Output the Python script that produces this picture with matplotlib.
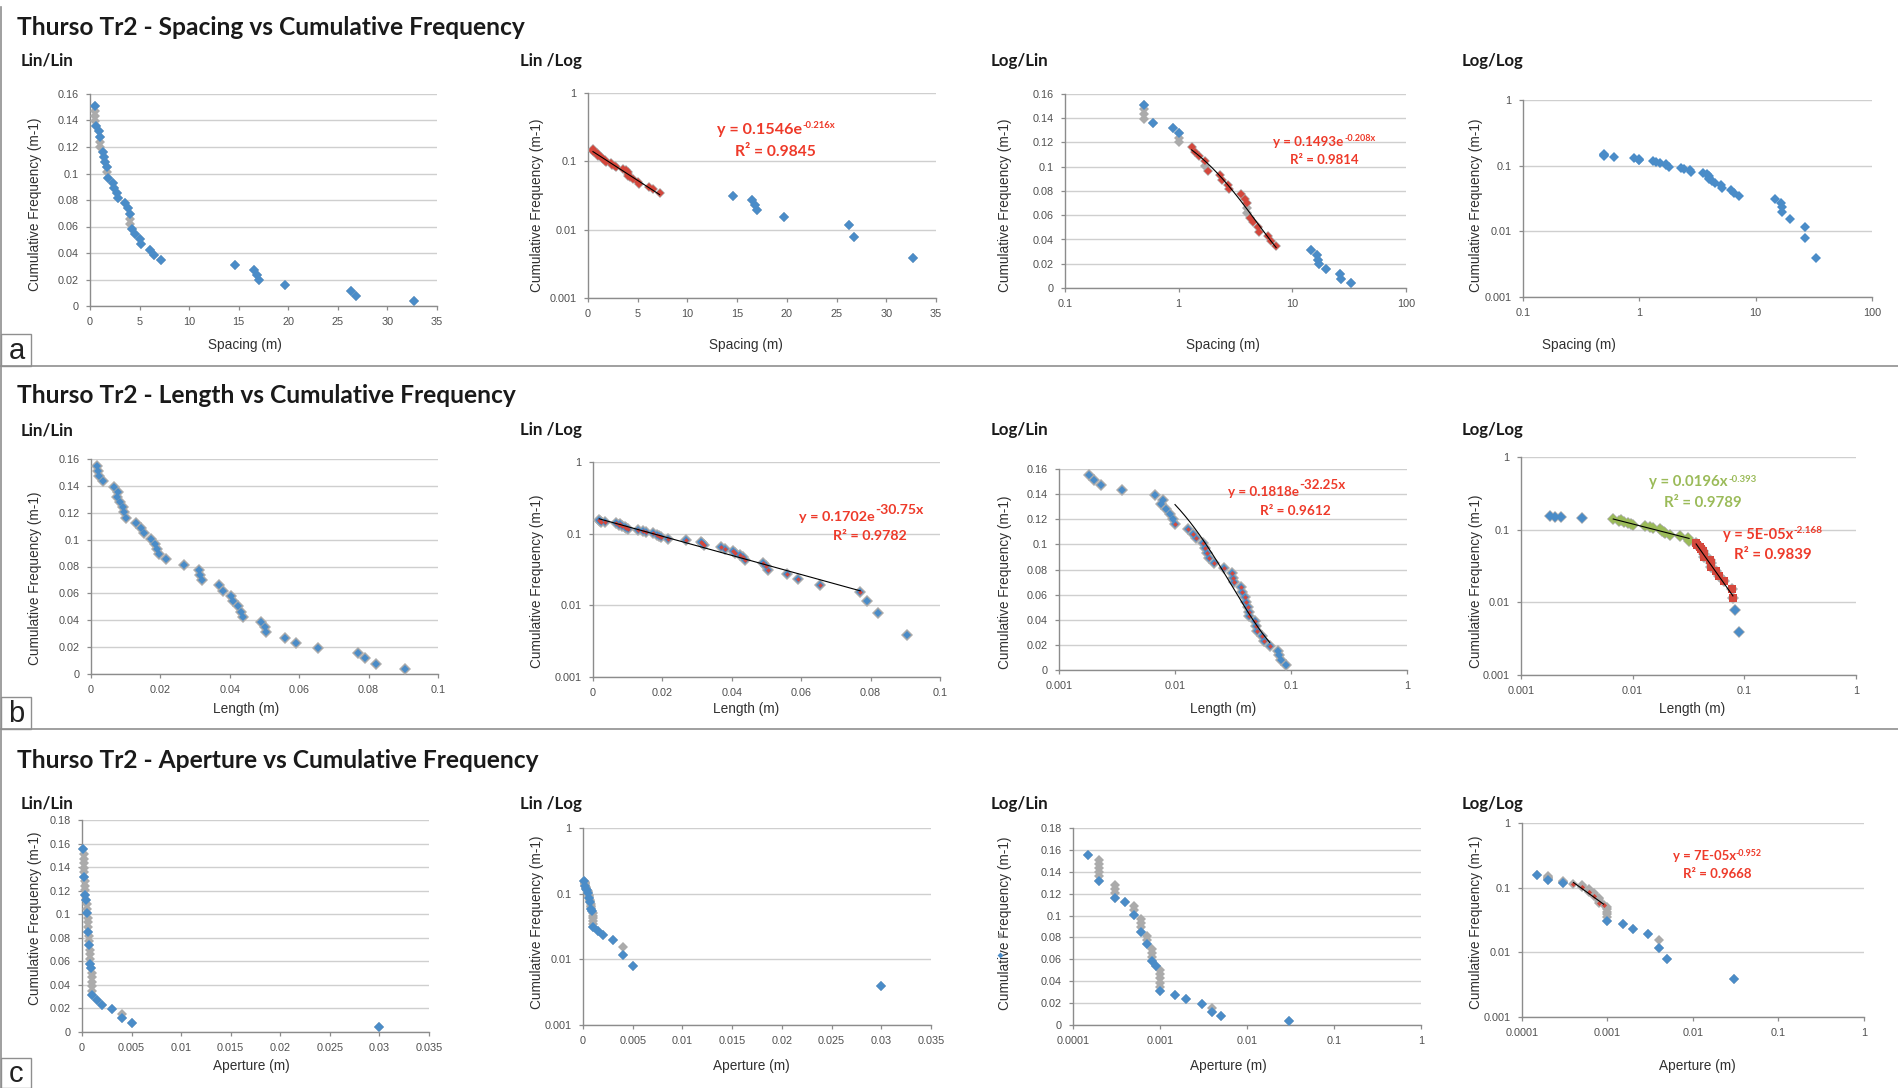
import numpy as np
import matplotlib
matplotlib.use("Agg")
import matplotlib.pyplot as plt
from matplotlib.ticker import FixedLocator, NullLocator, FuncFormatter
from matplotlib.lines import Line2D
from matplotlib.patches import Rectangle

W, H, DPI = 1899, 1088, 100
plt.rcParams['font.family'] = ['Liberation Sans', 'DejaVu Sans']

# ---------------- data: spacing (rank 1 = largest spacing) ----------------
spacing_x = [32.7, 26.8, 26.3, 19.7, 17.0, 16.8, 16.5, 14.6, 7.2, 6.5, 6.1, 5.1, 5.0, 4.5, 4.2,
             4.0, 4.0, 4.0, 3.8, 3.5, 2.8, 2.7, 2.4, 2.3, 1.8, 1.7, 1.7, 1.5, 1.4, 1.3,
             1.0, 1.0, 1.0, 0.9, 0.6, 0.5, 0.5, 0.5, 0.5]
spacing_cf = [0.0039, 0.0078, 0.0116, 0.0155, 0.0194, 0.0233, 0.0271, 0.0310, 0.0349, 0.0388,
              0.0426, 0.0465, 0.0504, 0.0543, 0.0581, 0.0620, 0.0659, 0.0698, 0.0736, 0.0775,
              0.0814, 0.0853, 0.0891, 0.0930, 0.0969, 0.1008, 0.1047, 0.1085, 0.1124, 0.1163,
              0.1202, 0.1240, 0.1279, 0.1318, 0.1357, 0.1395, 0.1434, 0.1473, 0.1512]
spacing_front = [1, 1, 1, 1, 1, 1, 1, 1, 1, 1, 1, 1, 1, 1, 1,
                 0, 0, 1, 1, 1, 1, 1, 1, 1, 1, 0, 1, 1, 1, 1,
                 0, 0, 1, 1, 1, 0, 0, 0, 1]

# ---------------- data: length ----------------
length_x = [0.0905, 0.082, 0.079, 0.077, 0.0655, 0.059, 0.056, 0.0505, 0.050, 0.049,
            0.0437, 0.0433, 0.0425, 0.041, 0.0403, 0.038, 0.037, 0.032, 0.0315, 0.031,
            0.0267, 0.0216, 0.0195, 0.019, 0.0183, 0.0174, 0.0153, 0.0143, 0.013, 0.010,
            0.0096, 0.0091, 0.0084, 0.0076, 0.0079, 0.0067, 0.0035, 0.0023, 0.0020, 0.0018]
length_cf = [0.0039, 0.0078, 0.0116, 0.0155, 0.0194, 0.0233, 0.0271, 0.0310, 0.0349, 0.0388,
             0.0426, 0.0465, 0.0504, 0.0543, 0.0581, 0.0620, 0.0659, 0.0698, 0.0736, 0.0775,
             0.0814, 0.0853, 0.0891, 0.0930, 0.0969, 0.1008, 0.1047, 0.1085, 0.1124, 0.1163,
             0.1202, 0.1240, 0.1279, 0.1318, 0.1357, 0.1395, 0.1434, 0.1473, 0.1512, 0.1550]

# ---------------- data: aperture ----------------
aperture_x = [0.03, 0.005, 0.004, 0.004, 0.003, 0.002, 0.0015,
              0.001, 0.001, 0.001, 0.001, 0.001, 0.001, 0.0009,
              0.0008, 0.0008, 0.0008, 0.0008, 0.0007, 0.0007, 0.0007,
              0.0006, 0.0006, 0.0006, 0.0006, 0.0005, 0.0005, 0.0005, 0.0004,
              0.0003, 0.0003, 0.0003, 0.0003, 0.0002, 0.0002, 0.0002, 0.0002, 0.0002, 0.0002, 0.00015]
aperture_cf = [0.0039, 0.0078, 0.0116, 0.0155, 0.0194, 0.0233, 0.0271, 0.0310, 0.0349, 0.0388,
               0.0426, 0.0465, 0.0504, 0.0543, 0.0581, 0.0620, 0.0659, 0.0698, 0.0736, 0.0775,
               0.0814, 0.0853, 0.0891, 0.0930, 0.0969, 0.1008, 0.1047, 0.1085, 0.1124, 0.1163,
               0.1202, 0.1240, 0.1279, 0.1318, 0.1357, 0.1395, 0.1434, 0.1473, 0.1512, 0.1550]
aperture_front = [1, 1, 1, 0, 1, 1, 1,
                  1, 0, 0, 0, 0, 0, 1,
                  1, 0, 0, 0, 1, 0, 0,
                  1, 0, 0, 0, 1, 0, 0, 1,
                  1, 0, 0, 0, 1, 0, 0, 0, 0, 0, 1]

# ---------------- trendline fits (coefficients + rank range of fitted points) ----------------
fit_spacing_linlog = dict(a=0.1546, b=-0.216, kind='exp', ranks=(9, 39))
fit_spacing_loglin = dict(a=0.1493, b=-0.208, kind='exp', ranks=(9, 30))
fit_length_linlog = dict(a=0.1702, b=-30.75, kind='exp', ranks=(4, 40))
fit_length_loglin = dict(a=0.1818, b=-32.25, kind='exp', ranks=(5, 30))
fit_length_loglog_green = dict(a=0.0196, b=-0.393, kind='pow', ranks=(18, 36))
fit_length_loglog_red = dict(a=5e-05, b=-2.168, kind='pow', ranks=(3, 17))
fit_aperture_loglog = dict(a=7e-05, b=-0.952, kind='pow', ranks=(14, 29))

# ---------------- ticks ----------------
spacing_lin_ticks = [0, 5, 10, 15, 20, 25, 30, 35]
spacing_log_ticks = [0.1, 1, 10, 100]
length_lin_ticks = [0, 0.02, 0.04, 0.06, 0.08, 0.1]
length_log_ticks = [0.001, 0.01, 0.1, 1]
aperture_lin_ticks = [0, 0.005, 0.01, 0.015, 0.02, 0.025, 0.03, 0.035]
aperture_log_ticks = [0.0001, 0.001, 0.01, 0.1, 1]
cf_lin_ticks_16 = [0, 0.02, 0.04, 0.06, 0.08, 0.1, 0.12, 0.14, 0.16]
cf_lin_ticks_18 = [0, 0.02, 0.04, 0.06, 0.08, 0.1, 0.12, 0.14, 0.16, 0.18]
cf_log_ticks = [0.001, 0.01, 0.1, 1]

row_titles = ["Thurso Tr2 - Spacing vs Cumulative Frequency",
              "Thurso Tr2 - Length vs Cumulative Frequency",
              "Thurso Tr2 - Aperture vs Cumulative Frequency"]
panel_titles = ["Lin/Lin", "Lin /Log", "Log/Lin", "Log/Log"]
row_letters = ["a", "b", "c"]
x_labels = ["Spacing (m)", "Length (m)", "Aperture (m)"]
y_label = "Cumulative Frequency (m-1)"

# ---------------- styles ----------------
BLUE = '#4A8CC8'
GREY = '#ABABAB'
RED_PT = '#D4473C'
GREEN_PT = '#9BBB59'
RED_TXT = '#EE3A2A'
GREEN_TXT = '#9BBB59'
AX_COLOR = '#8C8C8C'
GRID_COLOR = '#CFCFCF'
TICK_COLOR = '#505050'
LABEL_COLOR = '#303030'

fig = plt.figure(figsize=(W / DPI, H / DPI), dpi=DPI)
fig.patch.set_facecolor('white')
renderer = fig.canvas.get_renderer()


def fx(x):
    return x / W


def fy(y):
    return 1 - y / H


def fit_text(x, y, s, target_w, family='Lato', weight='bold', color='black', va='baseline', ha='left',
             rotation=0):
    t = fig.text(fx(x), fy(y), s, fontsize=10, family=family, weight=weight, color=color,
                 va=va, ha=ha, rotation=rotation)
    w = t.get_window_extent(renderer).width
    t.set_fontsize(10 * target_w / w)
    return t


fmt = FuncFormatter(lambda v, p: f"{round(v, 6):g}")


def make_ax(rect, xlog, ylog, xticks, yticks):
    l, t, r, b = rect
    ax = fig.add_axes([fx(l), fy(b), (r - l) / W, (b - t) / H])
    if xlog:
        ax.set_xscale('log')
    if ylog:
        ax.set_yscale('log')
    ax.set_xlim(xticks[0], xticks[-1])
    ax.set_ylim(yticks[0], yticks[-1])
    ax.xaxis.set_major_locator(FixedLocator(xticks))
    ax.yaxis.set_major_locator(FixedLocator(yticks))
    ax.xaxis.set_minor_locator(NullLocator())
    ax.yaxis.set_minor_locator(NullLocator())
    ax.xaxis.set_major_formatter(fmt)
    ax.yaxis.set_major_formatter(fmt)
    for s in ('top', 'right'):
        ax.spines[s].set_visible(False)
    for s in ('left', 'bottom'):
        ax.spines[s].set_color(AX_COLOR)
        ax.spines[s].set_linewidth(1.0)
    ax.grid(axis='y', color=GRID_COLOR, lw=1.0)
    ax.grid(axis='x', visible=False)
    ax.set_axisbelow(True)
    ax.tick_params(direction='out', length=3.2, width=0.9, color=AX_COLOR, labelsize=7.8,
                   labelcolor=TICK_COLOR, pad=5)
    ax.set_facecolor('none')
    return ax


def sel(idx_cond, n):
    return [i for i in range(n) if idx_cond(i)]


def pts(ax, x, y, idx, marker, ms, color, z):
    xs = [x[i] for i in idx]
    ys = [y[i] for i in idx]
    ax.plot(xs, ys, ls='none', marker=marker, ms=ms, color=color, mec=color, mew=0,
            zorder=z, clip_on=False)


def in_fit(fit, i):
    return fit['ranks'][0] - 1 <= i <= fit['ranks'][1] - 1


def trend(ax, fit, x, log_x):
    xs = [x[i] for i in range(len(x)) if in_fit(fit, i)]
    lo, hi = min(xs), max(xs)
    xx = np.geomspace(lo, hi, 200) if log_x else np.linspace(lo, hi, 200)
    if fit['kind'] == 'exp':
        yy = fit['a'] * np.exp(fit['b'] * xx)
    else:
        yy = fit['a'] * xx ** fit['b']
    ax.plot(xx, yy, color='black', lw=0.8, zorder=8)


def equation(spec, color):
    left, bl, base, bw, exp, ew, ebl, rl, rbl, r2, rw = spec
    fit_text(left, bl, base, bw, color=color)
    fit_text(left + bw, ebl, exp, ew, color=color)
    fit_text(rl, rbl, r2, rw, color=color)


# ---------------- layout ----------------
RECT = {
    'a1': (90, 94, 437, 306), 'a2': (588, 93, 936, 298), 'a3': (1065, 94, 1406, 288), 'a4': (1523, 100, 1872, 297),
    'b1': (91, 459, 438, 674), 'b2': (593, 462, 940, 677), 'b3': (1059, 469, 1407, 670), 'b4': (1521, 457, 1856, 675),
    'c1': (82, 820, 429, 1032), 'c2': (583, 828, 931, 1025), 'c3': (1073, 828, 1421, 1025), 'c4': (1522, 823, 1864, 1017),
}
YLAB = {'a1': (35, 204), 'a2': (537, 205), 'a3': (1005, 205), 'a4': (1476, 205),
        'b1': (35, 578), 'b2': (537, 581), 'b3': (1005, 582), 'b4': (1476, 581),
        'c1': (35, 918), 'c2': (537, 922), 'c3': (1005, 923), 'c4': (1476, 922)}
XLAB = {'a1': (245, 345), 'a2': (746, 345), 'a3': (1223, 345), 'a4': (1579, 345),
        'b1': (246, 709), 'b2': (746, 709), 'b3': (1223, 709), 'b4': (1692, 709),
        'c1': (251, 1066), 'c2': (751, 1066), 'c3': (1228, 1066), 'c4': (1697, 1066)}
SUB_X = [21, 520, 991, 1462]
SUB_W = [53, 62, 58, 62]
SUB_BL = [66, 435.5, 808.5]
TITLE_BL = [35, 403, 768]
TITLE_W = [510, 500, 524]
BOX = [(334, 365.5), (697, 728.5), (1058, 1088)]

# frame lines
fig.add_artist(Line2D([fx(1.5), fx(1.5)], [fy(7), fy(1088)], color='#8F8F8F', lw=1.2))
for ysep in (365.5, 728.5):
    fig.add_artist(Line2D([0, 1], [fy(ysep), fy(ysep)], color='#8F8F8F', lw=1.2))
for r, (t, b) in enumerate(BOX):
    fig.add_artist(Rectangle((fx(1.5), fy(b)), (31.5 - 1.5) / W, (b - t) / H, fill=False,
                             ec='#8F8F8F', lw=1.0, transform=fig.transFigure))
    fig.text(fx(16.5), fy((t + b) / 2 + 1), row_letters[r], fontsize=21, color='#222222',
             ha='center', va='center', family='Liberation Sans')

for r in range(3):
    fit_text(17, TITLE_BL[r], row_titles[r], TITLE_W[r], color='#1A1A1A')
    for c in range(4):
        fit_text(SUB_X[c], SUB_BL[r], panel_titles[c], SUB_W[c], color='#1A1A1A')

for key in RECT:
    r = 'abc'.index(key[0])
    fig.text(fx(XLAB[key][0]), fy(XLAB[key][1]), x_labels[r], fontsize=9.8, color=LABEL_COLOR,
             ha='center', va='center')
    fig.text(fx(YLAB[key][0]), fy(YLAB[key][1]), y_label, fontsize=9.8, color=LABEL_COLOR,
             ha='center', va='center', rotation=90)

# ---------------- row a: spacing ----------------
nS = len(spacing_x)
front = sel(lambda i: spacing_front[i] == 1, nS)

ax = make_ax(RECT['a1'], False, False, spacing_lin_ticks, cf_lin_ticks_16)
pts(ax, spacing_x, spacing_cf, range(nS), 'D', 5.0, GREY, 3)
pts(ax, spacing_x, spacing_cf, front, 'D', 5.0, BLUE, 4)

ax = make_ax(RECT['a2'], False, True, spacing_lin_ticks, cf_log_ticks)
f = fit_spacing_linlog
pts(ax, spacing_x, spacing_cf, range(nS), 'D', 5.6, GREY, 3)
pts(ax, spacing_x, spacing_cf, sel(lambda i: not in_fit(f, i), nS), 'D', 5.2, BLUE, 4)
pts(ax, spacing_x, spacing_cf, sel(lambda i: in_fit(f, i), nS), 'D', 4.2, RED_PT, 5)
trend(ax, f, spacing_x, False)

ax = make_ax(RECT['a3'], True, False, spacing_log_ticks, cf_lin_ticks_16)
f = fit_spacing_loglin
pts(ax, spacing_x, spacing_cf, range(nS), 'D', 5.2, GREY, 3)
pts(ax, spacing_x, spacing_cf, sel(lambda i: spacing_front[i] and not in_fit(f, i), nS), 'D', 5.0, BLUE, 4)
pts(ax, spacing_x, spacing_cf, sel(lambda i: spacing_front[i] and in_fit(f, i), nS), 'D', 4.2, RED_PT, 5)
trend(ax, f, spacing_x, True)

ax = make_ax(RECT['a4'], True, True, spacing_log_ticks, cf_log_ticks)
pts(ax, spacing_x, spacing_cf, range(nS), 'D', 5.0, BLUE, 4)

equation((717, 134, "y = 0.1546e", 85, "-0.216x", 33, 128.3, 735, 155.7, "R\u00b2 = 0.9845", 81), RED_TXT)
equation((1273, 146, "y = 0.1493e", 71, "-0.208x", 31, 140.7, 1290, 164, "R\u00b2 = 0.9814", 69), RED_TXT)

# ---------------- row b: length ----------------
nL = len(length_x)
allL = range(nL)

ax = make_ax(RECT['b1'], False, False, length_lin_ticks, cf_lin_ticks_16)
pts(ax, length_x, length_cf, allL, 'D', 6.6, GREY, 3)
pts(ax, length_x, length_cf, allL, 'D', 3.8, BLUE, 4)

ax = make_ax(RECT['b2'], False, True, length_lin_ticks, cf_log_ticks)
f = fit_length_linlog
pts(ax, length_x, length_cf, allL, 'D', 6.6, GREY, 3)
pts(ax, length_x, length_cf, allL, 'D', 4.4, BLUE, 4)
pts(ax, length_x, length_cf, sel(lambda i: in_fit(f, i), nL), 'D', 2.4, RED_PT, 5)
trend(ax, f, length_x, False)

ax = make_ax(RECT['b3'], True, False, length_log_ticks, cf_lin_ticks_16)
f = fit_length_loglin
pts(ax, length_x, length_cf, allL, 'D', 6.6, GREY, 3)
pts(ax, length_x, length_cf, allL, 'D', 4.4, BLUE, 4)
pts(ax, length_x, length_cf, sel(lambda i: in_fit(f, i), nL), 'D', 2.4, RED_PT, 5)
trend(ax, f, length_x, True)

ax = make_ax(RECT['b4'], True, True, length_log_ticks, cf_log_ticks)
fg, fr = fit_length_loglog_green, fit_length_loglog_red
pts(ax, length_x, length_cf, allL, 'D', 6.6, GREY, 3)
pts(ax, length_x, length_cf, sel(lambda i: not in_fit(fg, i) and not in_fit(fr, i), nL), 'D', 4.6, BLUE, 4)
pts(ax, length_x, length_cf, sel(lambda i: in_fit(fg, i), nL), 'D', 4.6, GREEN_PT, 5)
pts(ax, length_x, length_cf, sel(lambda i: in_fit(fr, i), nL), 's', 5.2, RED_PT, 5)
trend(ax, fg, length_x, True)
trend(ax, fr, length_x, True)

equation((799, 521, "y = 0.1702e", 76, "-30.75x", 48, 514.3, 833, 540, "R\u00b2 = 0.9782", 74), RED_TXT)
equation((1228, 495.7, "y = 0.1818e", 71, "-32.25x", 46, 489, 1260, 515, "R\u00b2 = 0.9612", 71), RED_TXT)
equation((1649, 486, "y = 0.0196x", 79, "-0.393", 28, 481.7, 1664, 507, "R\u00b2 = 0.9789", 78), GREEN_TXT)
equation((1723, 538.7, "y = 5E-05x", 70, "-2.168", 29, 533, 1734, 558.7, "R\u00b2 = 0.9839", 78), RED_TXT)

# ---------------- row c: aperture ----------------
nA = len(aperture_x)
allA = range(nA)
frontA = sel(lambda i: aperture_front[i] == 1, nA)

for key, xlog, ylog, yt in (('c1', False, False, cf_lin_ticks_18), ('c2', False, True, cf_log_ticks),
                            ('c3', True, False, cf_lin_ticks_18)):
    ax = make_ax(RECT[key], xlog, ylog, aperture_log_ticks if xlog else aperture_lin_ticks, yt)
    pts(ax, aperture_x, aperture_cf, allA, 'D', 5.2, GREY, 3)
    pts(ax, aperture_x, aperture_cf, frontA, 'D', 5.0, BLUE, 4)
    if key == 'c3':
        h_grey = Line2D([], [], ls='none', marker='D', ms=3.0, color=GREY, mew=0)
        h_blue = Line2D([], [], ls='none', marker='D', ms=3.0, color=BLUE, mew=0)
        fig.legend([h_grey, h_blue], ['', ''], loc='center', bbox_to_anchor=(fx(1000), fy(946)),
                   frameon=False, fontsize=8, handlelength=0.6, handletextpad=0, borderpad=0,
                   labelspacing=0.9)

ax = make_ax(RECT['c4'], True, True, aperture_log_ticks, cf_log_ticks)
f = fit_aperture_loglog
pts(ax, aperture_x, aperture_cf, allA, 'D', 5.4, GREY, 3)
pts(ax, aperture_x, aperture_cf, sel(lambda i: aperture_front[i] and not in_fit(f, i), nA), 'D', 5.0, BLUE, 4)
pts(ax, aperture_x, aperture_cf, sel(lambda i: aperture_front[i] and in_fit(f, i), nA), 'D', 2.6, RED_PT, 5)
trend(ax, f, aperture_x, True)

equation((1673, 860, "y = 7E-05x", 63, "-0.952", 26, 856, 1683, 878.3, "R\u00b2 = 0.9668", 69), RED_TXT)

fig.savefig('out.png', dpi=DPI, facecolor='white')
